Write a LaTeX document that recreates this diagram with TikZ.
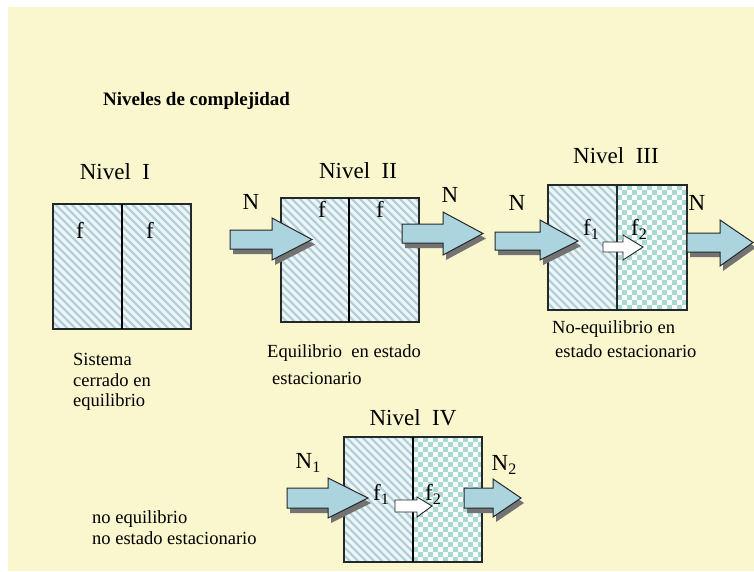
\documentclass[tikz,border=0pt]{standalone}
\usepackage{fontspec}
\setmainfont{Liberation Serif}
\definecolor{cream}{RGB}{250,246,206}
\definecolor{hatchc}{RGB}{178,208,218}
\definecolor{boxbg}{RGB}{240,246,245}
\definecolor{checkc}{RGB}{168,218,210}
\definecolor{arrowc}{RGB}{172,212,222}
\definecolor{shadowc}{RGB}{115,115,115}
\definecolor{edgec}{RGB}{35,40,40}
\newcommand\hatchrect[4]{%
  \begin{scope}
    \clip (#1,#2) rectangle (#3,#4);
    \fill[boxbg] (#1,#2) rectangle (#3,#4);
    \foreach \k in {-136,-128,...,80}{\draw[hatchc,line width=2.3pt] ({#1+\k},{#2-2}) -- ++(150,150);}
  \end{scope}}
\newcommand\checkrect[4]{%
  \begin{scope}
    \clip (#1,#2) rectangle (#3,#4);
    \fill[white!94!checkc] (#1,#2) rectangle (#3,#4);
    \foreach \i in {0,...,14}{\foreach \j in {0,...,25}{%
      \pgfmathtruncatemacro\chkpar{mod(\i+\j,2)}%
      \ifnum\chkpar=0 \fill[checkc] ({#1+5*\i},{#2+5*\j}) rectangle ++(5,5);\fi}}
  \end{scope}}
% name, xs, xh, xe, ys1, ys2, yh1, yh2
\newcommand\blockarrow[8]{%
  \begin{scope}[shift={(3,5)}]
    \fill[shadowc] (#2,#5) -- (#3,#5) -- (#3,#7) -- (#4,{(#5+#6)/2}) -- (#3,#8) -- (#3,#6) -- (#2,#6) -- cycle;
  \end{scope}
  \draw[edgec,line width=1pt,fill=arrowc] (#2,#5) -- (#3,#5) -- (#3,#7) -- (#4,{(#5+#6)/2}) -- (#3,#8) -- (#3,#6) -- (#2,#6) -- cycle;
  \coordinate (#1) at (#4,{(#5+#6)/2});}
\newcommand\smallarrow[8]{%
  \draw[edgec,line width=0.9pt,fill=white] (#2,#5) -- (#3,#5) -- (#3,#7) -- (#4,{(#5+#6)/2}) -- (#3,#8) -- (#3,#6) -- (#2,#6) -- cycle;
  \coordinate (#1) at (#4,{(#5+#6)/2});}
\tikzset{
  lvl/.style={anchor=base,inner sep=0pt,font=\fontsize{23}{23}\selectfont},
  lab/.style={anchor=base,inner sep=0pt,font=\fontsize{23}{23}\selectfont},
  desc/.style={anchor=base west,inner sep=0pt,font=\fontsize{18.5}{18.5}\selectfont},
  boxline/.style={draw=edgec,line width=1.1pt},
  divider/.style={draw=black,line width=2.4pt},
}
\newcommand\sub[2]{#1\raisebox{-4.5pt}{\fontsize{16}{16}\selectfont #2}}
\begin{document}
\begin{tikzpicture}[x=1pt,y=-1pt]
\useasboundingbox (0,0) rectangle (754,571);
\fill[white] (0,0) rectangle (754,571);
\fill[cream] (8,7) rectangle (754,571);

\node[anchor=base west,inner sep=0pt,font=\fontsize{19}{19}\selectfont\bfseries] (title) at (103,105) {Niveles de complejidad};

% Nivel I
\hatchrect{53}{204}{122}{329}
\hatchrect{122}{204}{191}{329}
\draw[boxline] (53,204) rectangle (191,329);
\draw[divider] (122,204) -- (122,329);
\node[lvl] (n1) at (115,179) {Nivel~ I};
\node[lab] (f1a) at (80,238) {f};
\node[lab] (f1b) at (150,238) {f};
\node[desc] (d1a) at (73,365) {Sistema};
\node[desc] (d1b) at (73,386) {cerrado en};
\node[desc] (d1c) at (73,406) {equilibrio};

% Nivel II
\hatchrect{281}{198}{349}{322}
\hatchrect{349}{198}{419}{322}
\draw[boxline] (281,198) rectangle (419,322);
\draw[divider] (349,198) -- (349,322);
\node[lvl] (n2) at (358,178) {Nivel~ II};
\node[lab] (f2a) at (322,217) {f};
\node[lab] (f2b) at (380,217) {f};
\blockarrow{a2in}{230}{272}{312}{230}{249}{218}{260}
\blockarrow{a2out}{402}{443}{483}{224}{243}{212}{255}
\node[lab] (N2a) at (251,209) {N};
\node[lab] (N2b) at (450,202) {N};
\node[desc] (d2a) at (267,357) {Equilibrio~ en estado};
\node[desc] (d2b) at (272,384) {estacionario};

% Nivel III
\hatchrect{548}{185}{617}{310}
\checkrect{617}{185}{687}{310}
\draw[boxline] (548,185) rectangle (687,310);
\draw[edgec,line width=1.3pt] (617,185) -- (617,310);
\node[lvl] (n3) at (616,163) {Nivel~ III};
\blockarrow{a3in}{495}{540}{578}{232}{250}{220}{260}
\blockarrow{a3out}{687}{720}{753}{233}{252}{220}{266}
\smallarrow{a3mid}{603}{623}{643}{242}{252}{235}{260}
\node[lab] (f3a) at (591,235) {\sub{f}{1}};
\node[lab] (f3b) at (639,235) {\sub{f}{2}};
\node[lab] (N3a) at (517,210) {N};
\node[lab] (N3b) at (697,210) {N};
\node[desc] (d3a) at (552,333) {No-equilibrio en};
\node[desc] (d3b) at (555,357) {estado estacionario};

% Nivel IV
\hatchrect{344}{437}{413}{562}
\checkrect{413}{437}{482}{562}
\draw[boxline] (344,437) rectangle (482,562);
\draw[divider,line width=2pt] (413,437) -- (413,562);
\node[lvl] (n4) at (413,425) {Nivel~ IV};
\blockarrow{a4in}{287}{328}{368}{488}{508}{478}{518}
\blockarrow{a4out}{464}{493}{521}{488}{508}{479}{517}
\smallarrow{a4mid}{395}{417}{432}{500}{512}{497}{517}
\node[lab] (f4a) at (381,500) {\sub{f}{1}};
\node[lab] (f4b) at (433,500) {\sub{f}{2}};
\node[lab] (N4a) at (308,468) {\sub{N}{1}};
\node[lab] (N4b) at (504,470) {\sub{N}{2}};
\node[desc] (d4a) at (92,523) {no equilibrio};
\node[desc] (d4b) at (92,544) {no estado estacionario};
\end{tikzpicture}
\end{document}
